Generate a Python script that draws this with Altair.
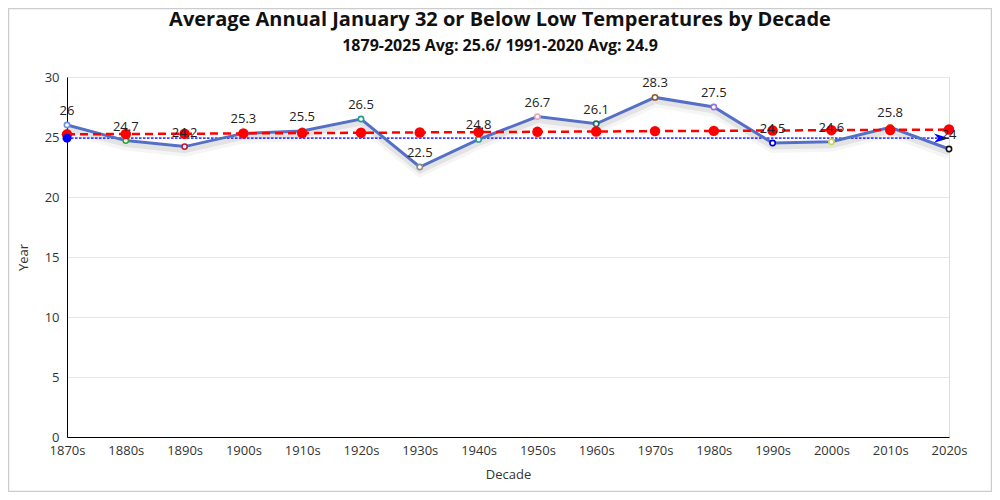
import altair as alt
import pandas as pd

decades = ["1870s", "1880s", "1890s", "1900s", "1910s", "1920s", "1930s", "1940s",
           "1950s", "1960s", "1970s", "1980s", "1990s", "2000s", "2010s", "2020s"]
temps = [26, 24.7, 24.2, 25.3, 25.5, 26.5, 22.5, 24.8, 26.7, 26.1, 28.3, 27.5, 24.5, 24.6, 25.8, 24]
trend = [25.22, 25.25, 25.27, 25.30, 25.33, 25.35, 25.38, 25.41,
         25.43, 25.46, 25.49, 25.51, 25.54, 25.57, 25.59, 25.62]
marker_colors = ["#6f8fe0", "#33a02c", "#c0143c", "#e07b39", "#4aa3a2", "#1f9e89", "#8c8c8c", "#2a9d9d",
                 "#e8a3b4", "#1d6b60", "#8b5a2b", "#9370db", "#0000cd", "#d4d44a", "#e6550d", "#111111"]
normal_value = 24.9
title_text = "Average Annual January 32 or Below Low Temperatures by Decade"
subtitle_text = "1879-2025 Avg: 25.6/ 1991-2020 Avg: 24.9"

df = pd.DataFrame({"decade": decades, "temp": temps, "trend": trend, "mcolor": marker_colors})
ends = pd.DataFrame({"decade": [decades[0], decades[-1]], "v": [normal_value, normal_value]})
box = pd.DataFrame({"k": [0]})
titles = pd.DataFrame({"t": [title_text]})
subtitles = pd.DataFrame({"t": [subtitle_text]})

FONT = "Open Sans"
W, H = 882, 360

xenc = alt.X("decade:N", sort=decades, scale=alt.Scale(type="point", padding=0),
             axis=alt.Axis(title="Decade", labelFontSize=13, labelColor="#333", titleFontSize=13,
                           titleFontWeight="normal", titleColor="#333", ticks=False,
                           domainColor="#000", labelPadding=7, titlePadding=11, grid=False,
                           labelAngle=0))
yscale = alt.Scale(domain=[0, 30], nice=False, zero=True)
yenc = alt.Y("temp:Q", scale=yscale,
             axis=alt.Axis(title="Year", values=[0, 5, 10, 15, 20, 25, 30], labelFontSize=13,
                           labelColor="#333", titleFontSize=13, titleFontWeight="normal",
                           titleColor="#333", ticks=False, domainColor="#000", labelPadding=8,
                           titlePadding=14, gridColor="#e6e6e6"))

base = alt.Chart(df)

border = alt.Chart(box).mark_rect(fill="transparent", stroke="#cccccc", strokeWidth=1.5).encode(
    x=alt.value(-58.5), x2=alt.value(924.5), y=alt.value(-68.5), y2=alt.value(414.5))

title_mark = alt.Chart(titles).mark_text(fontSize=20, fontWeight="bold", color="#111", font=FONT,
                                         align="center", baseline="alphabetic").encode(
    x=alt.value(433), y=alt.value(-51), text="t:N")
subtitle_mark = alt.Chart(subtitles).mark_text(fontSize=16, fontWeight="bold", color="#111", font=FONT,
                                               align="center", baseline="alphabetic").encode(
    x=alt.value(433), y=alt.value(-26), text="t:N")

shadow1 = base.mark_line(color="#000", opacity=0.04, strokeWidth=10, yOffset=5).encode(x=xenc, y=yenc)
shadow2 = base.mark_line(color="#000", opacity=0.07, strokeWidth=5, yOffset=4).encode(x=xenc, y=yenc)

normal_line = alt.Chart(ends).mark_line(color="#0000ff", strokeWidth=1.2, strokeDash=[2.5, 1.5]).encode(
    x=alt.X("decade:N", sort=decades), y=alt.Y("v:Q"))

main_line = base.mark_line(color="#5470c6", strokeWidth=3).encode(x=xenc, y=yenc)
markers = base.mark_point(shape="circle", filled=False, fill="white", fillOpacity=1, size=28,
                          strokeWidth=1.6, opacity=1).encode(
    x=xenc, y=yenc, stroke=alt.Stroke("mcolor:N", scale=None))

trend_line = base.mark_line(color="#ff0000", strokeWidth=2.5, strokeDash=[8, 5]).encode(
    x=xenc, y=alt.Y("trend:Q"))
trend_dots = base.mark_circle(color="#ff0000", size=110, opacity=1).encode(x=xenc, y=alt.Y("trend:Q"))

start_dot = alt.Chart(ends.iloc[[0]]).mark_circle(color="#0000ff", size=80, opacity=1).encode(
    x=alt.X("decade:N", sort=decades), y=alt.Y("v:Q"))
end_arrow = alt.Chart(ends.iloc[[1]]).mark_point(
    shape="M0,0L-2,-0.62L-1.45,0L-2,0.62Z", filled=True, color="#0000ff", size=225, opacity=1).encode(
    x=alt.X("decade:N", sort=decades), y=alt.Y("v:Q"))

labels = base.mark_text(dy=-14, fontSize=13, color="#222", font=FONT).encode(
    x=xenc, y=yenc, text=alt.Text("temp:Q"))

chart = alt.layer(
    border, title_mark, subtitle_mark, shadow1, shadow2, normal_line, main_line, markers,
    trend_line, trend_dots, start_dot, end_arrow, labels
).properties(
    width=W, height=H,
    autosize=alt.AutoSizeParams(type="none"),
    padding={"left": 59, "top": 69, "right": 43, "bottom": 55},
).configure_view(stroke=None).configure(font=FONT)

chart.save("out.html", embed_options={"renderer": "svg", "actions": False})
